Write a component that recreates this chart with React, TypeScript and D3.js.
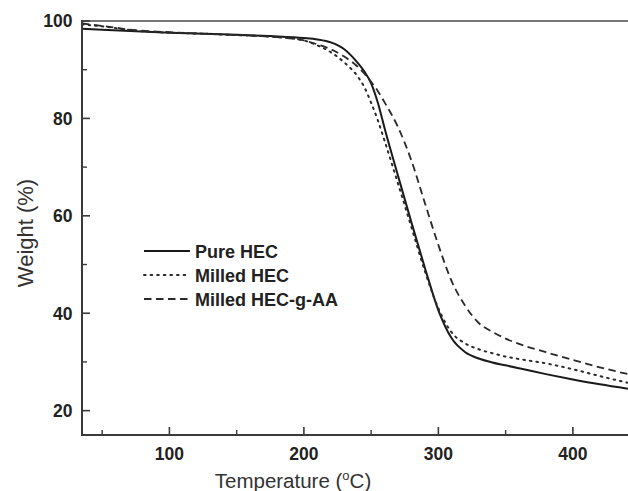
import React from "react";
import * as d3 from "d3";

const temperatures = [35, 50, 75, 100, 125, 150, 175, 200, 210, 220, 230, 240, 245, 250, 255, 260, 270, 280, 290, 300, 310, 320, 330, 340, 350, 360, 380, 400, 420, 441];
const pureHEC = [98.4, 98.2, 97.9, 97.6, 97.4, 97.2, 96.9, 96.5, 96.2, 95.6, 94.2, 91.4, 89.6, 87.2, 83.2, 78.0, 68.2, 58.6, 49.3, 40.6, 34.8, 32.0, 30.7, 29.9, 29.3, 28.7, 27.5, 26.4, 25.4, 24.5];
const milledHEC = [99.3, 98.9, 98.0, 97.6, 97.4, 97.1, 96.8, 96.0, 95.0, 93.6, 91.5, 88.6, 86.4, 83.2, 79.6, 75.4, 66.6, 57.6, 48.6, 41.0, 36.0, 33.8, 32.6, 31.8, 31.1, 30.6, 29.7, 28.5, 27.1, 25.7];
const milledHECgAA = [99.5, 99.0, 98.1, 97.7, 97.4, 97.1, 96.8, 96.0, 95.2, 94.2, 92.7, 90.6, 89.2, 87.5, 85.6, 83.3, 78.2, 71.3, 62.6, 54.0, 46.5, 41.5, 38.0, 36.2, 34.8, 33.7, 32.0, 30.4, 28.9, 27.5];

const seriesNames = ["Pure HEC", "Milled HEC", "Milled HEC-g-AA"];
const xMajorTicks = [100, 200, 300, 400];
const xMinorTicks = [50, 150, 250, 350];
const yMajorTicks = [20, 40, 60, 80, 100];
const yMinorTicks = [30, 50, 70, 90];

const W = 628;
const H = 491;
const left = 82;
const right = 628;
const top = 21;
const bottom = 435;

export default function App() {
  const x = d3.scaleLinear().domain([35, 441]).range([left, right]);
  const y = d3.scaleLinear().domain([15, 100]).range([bottom, top]);

  const series = [pureHEC, milledHEC, milledHECgAA];
  const dashes = [undefined, "1.6 5", "7.5 4.5"];
  const widths = [2, 2, 1.8];
  const colors = ["#1a1a1a", "#2a2a2a", "#2a2a2a"];

  const line = d3
    .line<[number, number]>()
    .x((d) => x(d[0]))
    .y((d) => y(d[1]))
    .curve(d3.curveMonotoneX);

  const axisColor = "#3a3a3a";
  const font = "Arial, 'Liberation Sans', sans-serif";

  return (
    <svg
      width={W}
      height={H}
      style={{ position: "absolute", left: 0, top: 0, background: "#fff" }}
    >
      <defs>
        <clipPath id="plot">
          <rect x={left} y={top} width={right - left} height={bottom - top} />
        </clipPath>
      </defs>
      <rect x={0} y={0} width={W} height={H} fill="#fff" />

      <g clipPath="url(#plot)">
        {series.map((s, i) => (
          <path
            key={i}
            d={line(temperatures.map((t, j) => [t, s[j]] as [number, number])) || ""}
            fill="none"
            stroke={colors[i]}
            strokeWidth={widths[i]}
            strokeDasharray={dashes[i]}
            strokeLinecap={i === 1 ? "round" : "butt"}
          />
        ))}
      </g>

      <line x1={left} x2={right} y1={top} y2={top} stroke="#777" strokeWidth={2} />
      <line x1={left} x2={right} y1={bottom} y2={bottom} stroke={axisColor} strokeWidth={2} />
      <line x1={left} x2={left} y1={top - 1} y2={bottom + 1} stroke={axisColor} strokeWidth={2} />

      {xMajorTicks.map((t) => (
        <g key={"xM" + t}>
          <line x1={x(t)} x2={x(t)} y1={bottom} y2={bottom - 8} stroke={axisColor} strokeWidth={1.6} />
          <text
            x={x(t)}
            y={460}
            textAnchor="middle"
            fontFamily={font}
            fontWeight="bold"
            fontSize={17.5}
            fill="#222"
          >
            {t}
          </text>
        </g>
      ))}
      {xMinorTicks.map((t) => (
        <line key={"xm" + t} x1={x(t)} x2={x(t)} y1={bottom} y2={bottom - 5} stroke={axisColor} strokeWidth={1.4} />
      ))}
      {yMajorTicks.map((v) => (
        <g key={"yM" + v}>
          <line x1={left} x2={left + 8} y1={y(v)} y2={y(v)} stroke={axisColor} strokeWidth={1.6} />
          <text
            x={72.5}
            y={y(v) + 6.3}
            textAnchor="end"
            fontFamily={font}
            fontWeight="bold"
            fontSize={17.5}
            fill="#222"
          >
            {v}
          </text>
        </g>
      ))}
      {yMinorTicks.map((v) => (
        <line key={"ym" + v} x1={left} x2={left + 5} y1={y(v)} y2={y(v)} stroke={axisColor} strokeWidth={1.4} />
      ))}

      <text
        x={293}
        y={488}
        textAnchor="middle"
        fontFamily={font}
        fontSize={20.5}
        fill="#333"
      >
        Temperature (
        <tspan fontSize={13} dy={-8}>o</tspan>
        <tspan dy={8}>C)</tspan>
      </text>
      <text
        transform={`translate(33, 233) rotate(-90)`}
        textAnchor="middle"
        fontFamily={font}
        fontSize={22}
        fill="#333"
      >
        Weight (%)
      </text>

      {seriesNames.map((name, i) => {
        const ly = 251 + i * 24;
        return (
          <g key={name}>
            <line
              x1={144}
              x2={190}
              y1={ly}
              y2={ly}
              stroke={colors[i]}
              strokeWidth={widths[i]}
              strokeDasharray={dashes[i]}
              strokeLinecap={i === 1 ? "round" : "butt"}
            />
            <text
              x={195}
              y={ly + 6.5}
              fontFamily={font}
              fontWeight="bold"
              fontSize={18}
              fill="#222"
            >
              {name}
            </text>
          </g>
        );
      })}
    </svg>
  );
}
